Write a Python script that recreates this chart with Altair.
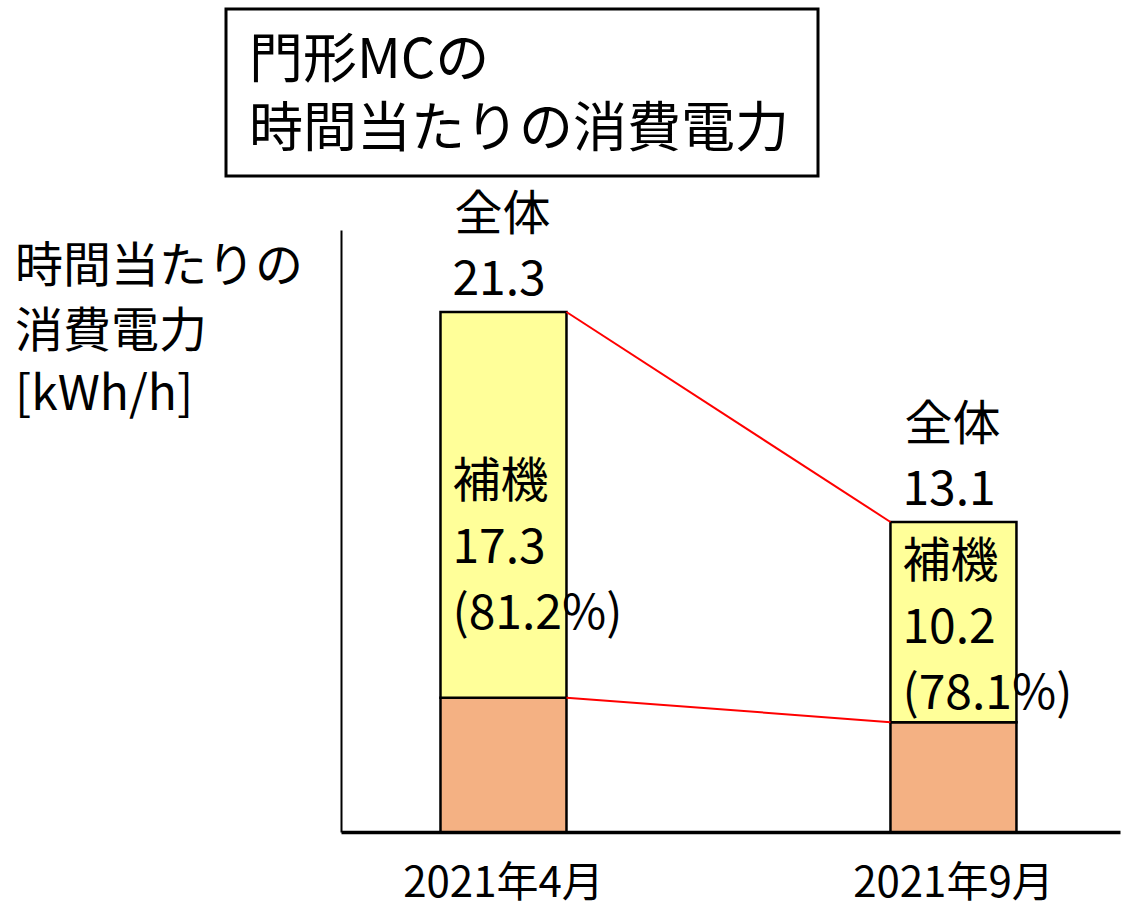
import altair as alt
import pandas as pd

FONT = "Noto Sans CJK JP"

# ---- data ----
months = ["2021年4月", "2021年9月"]
base_values = [5.5, 4.5]          # lower (orange) segment, drawn height
top_values = [21.3, 12.7]         # drawn top of the whole bar
total_names = ["全体", "全体"]
total_labels = ["21.3", "13.1"]
aux_names = ["補機", "補機"]
aux_values = ["17.3", "10.2"]
aux_shares = ["(81.2%)", "(78.1%)"]
aux_label_y = [14.3, 11.0]        # where the 補機 label block starts
title_lines = ["門形MCの", "時間当たりの消費電力"]
y_title_lines = ["時間当たりの", "消費電力", "[kWh/h]"]

seg_df = pd.DataFrame({
    "month": months + months,
    "lo": [0, 0] + base_values,
    "hi": base_values + top_values,
    "seg": ["base", "base", "aux", "aux"],
})
conn_df = pd.DataFrame({
    "from": [months[0], months[0]],
    "to": [months[1], months[1]],
    "y1": [top_values[0], base_values[0]],
    "y2": [top_values[1], base_values[1]],
})
tot_df = pd.DataFrame({"month": months, "top": top_values,
                       "name": total_names, "label": total_labels})
aux_df = pd.DataFrame({"month": months, "ly": aux_label_y, "name": aux_names,
                       "val": aux_values, "share": aux_shares})
title_df = pd.DataFrame({"t1": [title_lines[0]], "t2": [title_lines[1]]})
ytitle_df = pd.DataFrame({"a": [y_title_lines[0]], "b": [y_title_lines[1]], "c": [y_title_lines[2]]})

xscale = alt.Scale(domain=months, paddingInner=0.72, paddingOuter=0.2256, align=0.49)
yscale = alt.Scale(domain=[0, 24.66], nice=False, zero=True)
xaxis = alt.Axis(title=None, labelAngle=0, labelFontSize=42, labelColor="black",
                 labelFont=FONT, labelPadding=31, labelBaseline="top", labelLimit=0,
                 labelOverlap=False,
                 ticks=False, tickSize=0, grid=False, domainColor="black", domainWidth=3.5)
yaxis = alt.Axis(title=None, labels=False, ticks=False, tickSize=0, grid=False,
                 domainColor="black", domainWidth=2)

bars = alt.Chart(seg_df).mark_bar(stroke="black", strokeWidth=2.5).encode(
    x=alt.X("month:N", scale=xscale, axis=xaxis, sort=months),
    y=alt.Y("lo:Q", scale=yscale, axis=yaxis),
    y2="hi:Q",
    color=alt.Color("seg:N", scale=alt.Scale(domain=["base", "aux"],
                                             range=["#F4B183", "#FFFF99"]), legend=None),
)

rules = alt.Chart(conn_df).mark_rule(color="#FF0000", strokeWidth=2).encode(
    x=alt.X("from:N", bandPosition=1, scale=xscale, axis=xaxis),
    x2=alt.X2("to:N", bandPosition=0),
    y=alt.Y("y1:Q", scale=yscale, axis=yaxis),
    y2="y2:Q",
)

tot_base = alt.Chart(tot_df).encode(
    x=alt.X("month:N", bandPosition=0, scale=xscale, axis=xaxis),
    y=alt.Y("top:Q", scale=yscale, axis=yaxis),
)
tot_name = tot_base.mark_text(align="left", baseline="middle", dx=14, dy=-96,
                              fontSize=48, font=FONT, color="black").encode(text="name:N")
tot_val = tot_base.mark_text(align="left", baseline="middle", dx=12, dy=-31,
                             fontSize=48, font=FONT, color="black").encode(text="label:N")

aux_base = alt.Chart(aux_df).encode(
    x=alt.X("month:N", bandPosition=0, scale=xscale, axis=xaxis),
    y=alt.Y("ly:Q", scale=yscale, axis=yaxis),
)
aux_name = aux_base.mark_text(align="left", baseline="middle", dx=12, dy=0,
                              fontSize=48, font=FONT, color="black").encode(text="name:N")
aux_val = aux_base.mark_text(align="left", baseline="middle", dx=12, dy=66,
                             fontSize=48, font=FONT, color="black").encode(text="val:N")
aux_share = aux_base.mark_text(align="left", baseline="middle", dx=12, dy=132,
                               fontSize=48, font=FONT, color="black").encode(text="share:N")

title_box = alt.Chart(title_df).mark_rect(fill="white", stroke="black", strokeWidth=3).encode(
    x=alt.value(-115), x2=alt.value(477), y=alt.value(-221), y2=alt.value(-54))
title_t1 = alt.Chart(title_df).mark_text(align="left", baseline="middle", fontSize=54,
                                         font=FONT, color="black").encode(
    text="t1:N", x=alt.value(-92), y=alt.value(-168))
title_t2 = alt.Chart(title_df).mark_text(align="left", baseline="middle", fontSize=54,
                                         font=FONT, color="black").encode(
    text="t2:N", x=alt.value(-92), y=alt.value(-99))

yt_a = alt.Chart(ytitle_df).mark_text(align="left", baseline="middle", fontSize=48,
                                      font=FONT, color="black").encode(
    text="a:N", x=alt.value(-326), y=alt.value(38))
yt_b = alt.Chart(ytitle_df).mark_text(align="left", baseline="middle", fontSize=48,
                                      font=FONT, color="black").encode(
    text="b:N", x=alt.value(-326), y=alt.value(103))
yt_c = alt.Chart(ytitle_df).mark_text(align="left", baseline="middle", fontSize=48,
                                      font=FONT, color="black").encode(
    text="c:N", x=alt.value(-326), y=alt.value(166))

chart = alt.layer(
    bars, rules, tot_name, tot_val, aux_name, aux_val, aux_share,
    title_box, title_t1, title_t2, yt_a, yt_b, yt_c,
).properties(
    width=779, height=602,
    autosize=alt.AutoSizeParams(type="none"),
    padding={"left": 341, "top": 230, "right": 2, "bottom": 73},
    background="white",
).configure(font=FONT).configure_view(stroke=None)

chart.save("out.html", embed_options={"renderer": "svg", "actions": False})
